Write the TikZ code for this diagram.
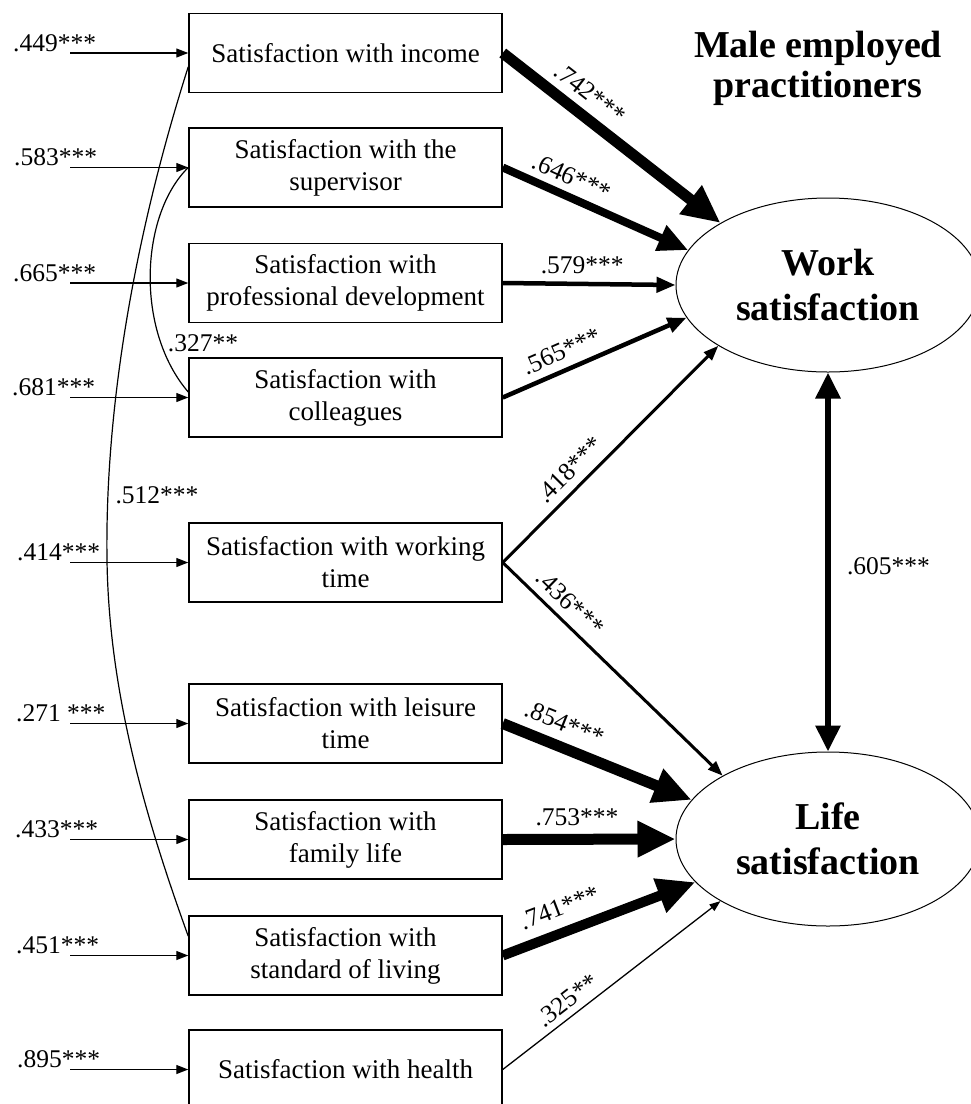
\documentclass[tikz,border=0pt]{standalone}
\usepackage{fontspec}
\setmainfont{Liberation Serif}
\usetikzlibrary{
  arrows.meta,
  shapes.geometric,
  chains,
  scopes
}

\begin{document}
\begin{tikzpicture}[
      x=1pt, y=-1pt,
      item/.style={
         rectangle,
         minimum width=313pt,
         minimum height=79pt,
         inner sep=0pt,
         line width=1.5pt,
         draw=black,
         align=center,
         font=\fontsize{27}{32}\selectfont
      },
      latent/.style={
         ellipse,
         minimum width=304pt,
         minimum height=174pt,
         inner sep=0pt,
         line width=1pt,
         draw=black,
         align=center,
         font=\bfseries\fontsize{38}{45}\selectfont
      },
      coef/.style={inner sep=1pt, font=\fontsize{25.5}{28}\selectfont},
      errtip/.style={-{Triangle[length=12pt,width=9pt]}, line width=1.3pt},
      thin path/.style={-{Triangle[length=11pt,width=8pt]}, line width=1.3pt},
      mid path/.style={-{Triangle[length=15pt,width=11pt]}, line width=3pt},
      thick path/.style={-{Triangle[length=19pt,width=15pt]}, line width=4.5pt},
      heavy path/.style={-{Triangle[length=30pt,width=26pt]}, line width=8pt},
      huge path/.style={-{Triangle[length=38pt,width=34pt]}, line width=11pt},
      both path/.style={{Triangle[length=26pt,width=24pt]}-{Triangle[length=26pt,width=24pt]}, line width=6pt},
      cov/.style={line width=1.2pt}
    ]
    \useasboundingbox (0,0) rectangle (971,1104);

    % observed items
    \node (b1) [item] at (345.5,53)   {Satisfaction with income};
    \node (b2) [item] at (345.5,167.5) {Satisfaction with the\\supervisor};
    \node (b3) [item] at (345.5,283)  {Satisfaction with\\professional development};
    \node (b4) [item] at (345.5,397.5) {Satisfaction with\\colleagues};
    \node (b5) [item] at (345.5,562.5) {Satisfaction with working\\time};
    \node (b6) [item] at (345.5,723.5) {Satisfaction with leisure\\time};
    \node (b7) [item] at (345.5,839.5) {Satisfaction with\\family life};
    \node (b8) [item] at (345.5,955.5) {Satisfaction with\\standard of living};
    \node (b9) [item] at (345.5,1069.5) {Satisfaction with health};

    % latent factors
    \node (work) [latent] at (828,285) {Work\\satisfaction};
    \node (life) [latent] at (828,839) {Life\\satisfaction};
    \node (head) [align=center, font=\bfseries\fontsize{38}{40}\selectfont] at (818,68) {Male employed\\practitioners};

    % error terms
    \coordinate (a1) at (70,53);
    \coordinate (a2) at (70,167.5);
    \coordinate (a3) at (70,283);
    \coordinate (a4) at (70,397.5);
    \coordinate (a5) at (70,562.5);
    \coordinate (a6) at (70,723.5);
    \coordinate (a7) at (70,839.5);
    \coordinate (a8) at (70,955.5);
    \coordinate (a9) at (70,1069.5);
    \node (e1) [coef, anchor=base west] at (12,51)     {.449***};
    \node (e2) [coef, anchor=base west] at (13,165.5)  {.583***};
    \node (e3) [coef, anchor=base west] at (12,281)    {.665***};
    \node (e4) [coef, anchor=base west] at (11,395.5)  {.681***};
    \node (e5) [coef, anchor=base west] at (16,560.5)  {.414***};
    \node (e6) [coef, anchor=base west] at (15,721.5)  {.271 ***};
    \node (e7) [coef, anchor=base west] at (14,837.5)  {.433***};
    \node (e8) [coef, anchor=base west] at (15,953.5)  {.451***};
    \node (e9) [coef, anchor=base west] at (16,1067.5) {.895***};
  { [start chain]
       \chainin (a1);
       \chainin (b1)    [join=by errtip];
  }
  { [start chain]
       \chainin (a2);
       \chainin (b2)    [join=by errtip];
  }
  { [start chain]
       \chainin (a3);
       \chainin (b3)    [join=by errtip];
  }
  { [start chain]
       \chainin (a4);
       \chainin (b4)    [join=by errtip];
  }
  { [start chain]
       \chainin (a5);
       \chainin (b5)    [join=by errtip];
  }
  { [start chain]
       \chainin (a6);
       \chainin (b6)    [join=by errtip];
  }
  { [start chain]
       \chainin (a7);
       \chainin (b7)    [join=by errtip];
  }
  { [start chain]
       \chainin (a8);
       \chainin (b8)    [join=by errtip];
  }
  { [start chain]
       \chainin (a9);
       \chainin (b9)    [join=by errtip];
  }

    % correlations
    \draw[cov] (b1.185) .. controls (130,250) and (105,420) .. (107,560)
                        .. controls (109,700) and (150,830) .. (b8.173);
    \draw[cov] (b2.west) .. controls (140,215) and (135,330) .. (b4.178);
    \node (r1) [coef] at (157,495) {.512***};
    \node (r2) [coef] at (203,343) {.327**};

    % paths
    \draw[huge path]  (b1.east) -- (work.150) node[coef, pos=.34, sloped, above=7pt] (p1) {.742***};
    \draw[heavy path] (b2.east) -- (work.166) node[coef, pos=.33, sloped, above=6pt] (p2) {.646***};
    \draw[thick path] (b3.east) -- (work.180) node[coef, pos=.46, above=7pt] (p3) {.579***};
    \draw[thick path] (b4.east) -- (work.193) node[coef, pos=.36, sloped, above=7pt] (p4) {.565***};
    \draw[mid path]   (b5.east) -- (work.209) node[coef, pos=.37, sloped, above=7pt] (p5) {.418***};
    \draw[mid path]   (b5.east) -- (life.149) node[coef, pos=.25, sloped, above=7pt] (p6) {.436***};
    \draw[huge path]  (b6.east) -- (life.164) node[coef, pos=.28, sloped, above=8pt] (p7) {.854***};
    \draw[huge path]  (b7.east) -- (life.180) node[coef, pos=.43, above=7pt] (p8) {.753***};
    \draw[huge path, line width=10pt] (b8.east) -- (life.198) node[coef, pos=.34, sloped, above=10pt] (p9) {.741***};
    \draw[thin path]  (b9.east) -- (life.210) node[coef, pos=.34, sloped, above=5pt] (p10) {.325**};
    \draw[both path]  (work.south) -- (life.north) node[coef, pos=.51, right=15pt] (p11) {.605***};
\end{tikzpicture}
\end{document}
